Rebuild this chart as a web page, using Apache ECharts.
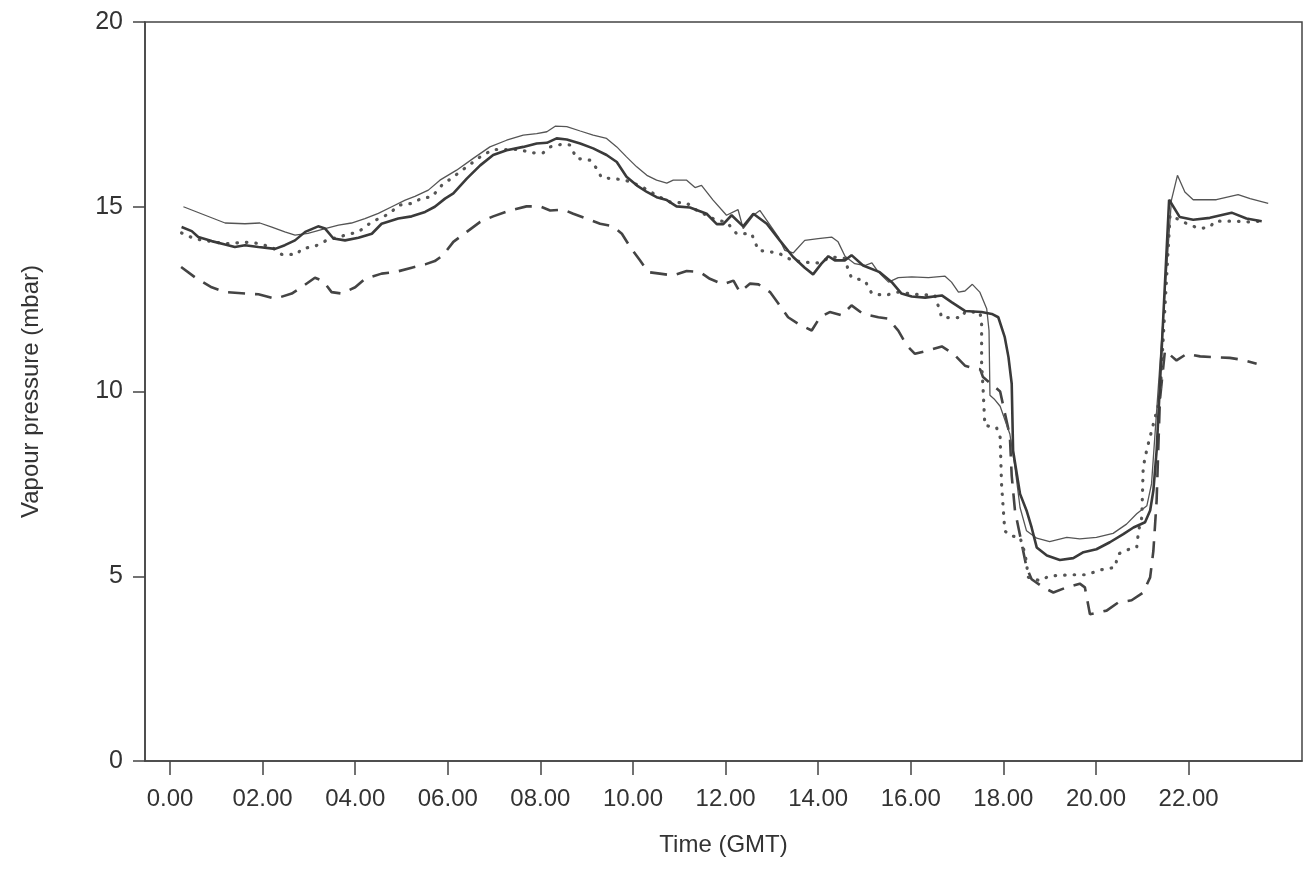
<!DOCTYPE html>
<html>
<head>
<meta charset="utf-8">
<title>Vapour pressure</title>
<script src="https://cdn.jsdelivr.net/npm/echarts@6/dist/echarts.min.js"></script>
<style>
  html, body { margin: 0; padding: 0; background: #fff; }
  #chart { width: 1307px; height: 892px; }
</style>
</head>
<body>
<div id="chart"></div>
<script>
// hours (GMT) where the x ticks sit, and what they read
const tickHours = [0, 2, 4, 6, 8, 10, 12, 14, 16, 18, 20, 22]
const tickLabels = ['0.00', '02.00', '04.00', '06.00', '08.00', '10.00',
  '12.00', '14.00', '16.00', '18.00', '20.00', '22.00']

// [hour, vapour pressure mbar]
const thinSolid = [
  [0.29, 15.0], [0.76, 14.77], [1.19, 14.56], [1.62, 14.54], [1.94, 14.56], [2.2, 14.45],
  [2.48, 14.32], [2.7, 14.23], [2.98, 14.28], [3.35, 14.41], [3.64, 14.5], [3.92, 14.56],
  [4.21, 14.68], [4.5, 14.82], [4.79, 15.0], [5.08, 15.18], [5.29, 15.28], [5.58, 15.45],
  [5.83, 15.72], [6.19, 15.99], [6.55, 16.31], [6.91, 16.62], [7.27, 16.8], [7.63, 16.94],
  [7.92, 16.98], [8.14, 17.03], [8.32, 17.18], [8.57, 17.17], [8.86, 17.05], [9.14, 16.94],
  [9.43, 16.85], [9.65, 16.62], [9.86, 16.35], [10.08, 16.08], [10.3, 15.85], [10.51, 15.72],
  [10.73, 15.64], [10.87, 15.72], [11.16, 15.72], [11.34, 15.52], [11.48, 15.58], [11.73, 15.18],
  [12.02, 14.77], [12.27, 14.92], [12.38, 14.41], [12.6, 14.77], [12.74, 14.9], [12.89, 14.63],
  [13.14, 14.18], [13.28, 13.82], [13.46, 13.75], [13.71, 14.09], [14.0, 14.14], [14.29, 14.18],
  [14.43, 14.05], [14.58, 13.66], [14.79, 13.46], [15.01, 13.41], [15.16, 13.48], [15.3, 13.23],
  [15.52, 12.96], [15.73, 13.08], [16.02, 13.1], [16.38, 13.08], [16.74, 13.12], [16.88, 12.96],
  [17.03, 12.69], [17.17, 12.72], [17.33, 12.9], [17.49, 12.69], [17.64, 12.24], [17.69, 11.65],
  [17.71, 9.9], [17.8, 9.8], [17.93, 9.6], [18.14, 8.85], [18.25, 7.95], [18.36, 6.86],
  [18.5, 6.23], [18.72, 6.03], [19.0, 5.94], [19.37, 6.05], [19.65, 6.01], [20.01, 6.05],
  [20.37, 6.16], [20.66, 6.41], [20.88, 6.69], [21.1, 6.91], [21.2, 7.5], [21.63, 15.18],
  [21.76, 15.85], [21.92, 15.4], [22.1, 15.19], [22.6, 15.19], [23.07, 15.33], [23.33, 15.22],
  [23.72, 15.09]
]

const thickSolid = [
  [0.25, 14.45], [0.47, 14.34], [0.61, 14.18], [0.9, 14.07], [1.19, 13.98], [1.4, 13.91],
  [1.62, 13.96], [1.91, 13.91], [2.27, 13.86], [2.48, 13.96], [2.7, 14.09], [2.92, 14.32],
  [3.2, 14.47], [3.35, 14.41], [3.53, 14.14], [3.78, 14.09], [4.07, 14.16], [4.36, 14.27],
  [4.57, 14.54], [4.93, 14.68], [5.22, 14.74], [5.51, 14.86], [5.72, 15.0], [5.94, 15.22],
  [6.12, 15.36], [6.41, 15.76], [6.7, 16.12], [6.98, 16.4], [7.27, 16.53], [7.63, 16.62],
  [7.92, 16.71], [8.14, 16.73], [8.35, 16.85], [8.57, 16.82], [8.86, 16.71], [9.14, 16.58],
  [9.43, 16.4], [9.65, 16.21], [9.86, 15.81], [10.08, 15.58], [10.3, 15.4], [10.51, 15.26],
  [10.73, 15.18], [10.94, 15.01], [11.23, 14.98], [11.59, 14.81], [11.81, 14.53], [11.95, 14.53],
  [12.13, 14.77], [12.38, 14.47], [12.6, 14.81], [12.89, 14.54], [13.17, 14.09], [13.46, 13.64],
  [13.71, 13.35], [13.89, 13.17], [14.07, 13.46], [14.22, 13.66], [14.36, 13.55], [14.58, 13.55],
  [14.72, 13.69], [14.97, 13.41], [15.33, 13.23], [15.59, 12.96], [15.8, 12.65], [16.02, 12.57],
  [16.31, 12.54], [16.67, 12.6], [16.88, 12.42], [17.17, 12.18], [17.53, 12.15], [17.75, 12.1],
  [17.89, 12.01], [18.03, 11.47], [18.11, 10.93], [18.18, 10.21], [18.21, 8.4], [18.36, 7.23],
  [18.5, 6.78], [18.61, 6.32], [18.72, 5.78], [18.94, 5.56], [19.22, 5.44], [19.51, 5.49],
  [19.73, 5.65], [20.01, 5.73], [20.3, 5.92], [20.59, 6.14], [20.81, 6.32], [21.06, 6.46],
  [21.17, 6.78], [21.24, 7.32], [21.31, 8.4], [21.58, 15.19], [21.81, 14.72], [22.1, 14.65],
  [22.46, 14.7], [22.93, 14.84], [23.25, 14.68], [23.58, 14.61]
]

const dotted = [
  [0.25, 14.29], [0.54, 14.13], [1.19, 14.0], [1.62, 14.04], [1.84, 14.02], [2.2, 13.91],
  [2.41, 13.71], [2.74, 13.71], [2.84, 13.86], [3.13, 13.93], [3.38, 14.09], [3.78, 14.23],
  [4.07, 14.32], [4.36, 14.59], [4.75, 14.82], [4.93, 15.04], [5.22, 15.09], [5.47, 15.25],
  [5.65, 15.26], [5.87, 15.58], [6.12, 15.81], [6.41, 16.08], [6.7, 16.35], [6.98, 16.55],
  [7.56, 16.55], [7.78, 16.46], [8.06, 16.46], [8.21, 16.62], [8.46, 16.69], [8.64, 16.67],
  [8.78, 16.31], [9.07, 16.26], [9.22, 16.03], [9.32, 15.79], [9.72, 15.74], [9.94, 15.68],
  [10.22, 15.52], [10.58, 15.26], [10.8, 15.13], [11.16, 15.1], [11.38, 14.9], [11.59, 14.77],
  [11.81, 14.63], [12.02, 14.59], [12.24, 14.27], [12.56, 14.27], [12.71, 13.82], [13.14, 13.75],
  [13.35, 13.6], [13.64, 13.5], [14.0, 13.48], [14.29, 13.64], [14.58, 13.6], [14.65, 13.28],
  [14.72, 13.08], [15.01, 13.0], [15.16, 12.65], [15.44, 12.6], [15.73, 12.69], [16.09, 12.63],
  [16.52, 12.6], [16.6, 12.29], [16.67, 12.0], [17.1, 12.0], [17.17, 12.15], [17.49, 12.15],
  [17.53, 11.92], [17.53, 10.75], [17.56, 10.12], [17.6, 9.08], [17.85, 9.03], [17.93, 8.76],
  [17.96, 7.5], [18.03, 6.23], [18.14, 6.1], [18.36, 6.05], [18.47, 5.6], [18.54, 4.97],
  [18.79, 4.88], [19.0, 5.01], [19.44, 5.04], [19.8, 5.04], [20.09, 5.17], [20.41, 5.24],
  [20.48, 5.6], [20.66, 5.71], [20.88, 5.78], [20.92, 6.23], [20.99, 6.59], [21.02, 7.95],
  [21.1, 8.44], [21.38, 9.8], [21.6, 14.77], [22.03, 14.5], [22.25, 14.41], [22.46, 14.45],
  [22.57, 14.61], [22.96, 14.61], [23.33, 14.59], [23.54, 14.61]
]

const dashed = [
  [0.24, 13.37], [0.54, 13.09], [0.9, 12.82], [1.19, 12.69], [1.55, 12.66], [1.91, 12.63],
  [2.27, 12.51], [2.63, 12.65], [2.84, 12.82], [3.13, 13.08], [3.31, 12.99], [3.49, 12.69],
  [3.71, 12.65], [4.0, 12.82], [4.21, 13.05], [4.57, 13.19], [4.86, 13.23], [5.22, 13.35],
  [5.51, 13.44], [5.72, 13.53], [5.9, 13.69], [6.12, 14.05], [6.41, 14.32], [6.7, 14.59],
  [6.98, 14.74], [7.34, 14.9], [7.7, 15.01], [7.99, 15.01], [8.21, 14.9], [8.5, 14.92],
  [8.71, 14.81], [9.0, 14.68], [9.29, 14.54], [9.57, 14.47], [9.76, 14.27], [9.94, 13.91],
  [10.15, 13.55], [10.33, 13.23], [10.58, 13.19], [10.87, 13.14], [11.16, 13.26], [11.45, 13.23],
  [11.66, 13.05], [11.95, 12.9], [12.17, 13.0], [12.31, 12.69], [12.53, 12.92], [12.71, 12.9],
  [12.96, 12.69], [13.14, 12.38], [13.35, 12.01], [13.57, 11.83], [13.86, 11.65], [14.04, 12.01],
  [14.25, 12.15], [14.51, 12.06], [14.72, 12.33], [14.97, 12.1], [15.3, 12.01], [15.51, 11.97],
  [15.73, 11.65], [15.91, 11.25], [16.09, 11.02], [16.38, 11.11], [16.67, 11.22], [16.92, 11.02],
  [17.17, 10.7], [17.39, 10.62], [17.5, 10.6], [17.56, 10.39], [17.93, 10.0], [18.14, 8.8],
  [18.18, 7.72], [18.25, 6.78], [18.39, 5.92], [18.5, 5.24], [18.61, 4.92], [18.86, 4.7],
  [19.08, 4.56], [19.37, 4.7], [19.65, 4.8], [19.76, 4.7], [19.87, 3.97], [20.23, 4.07],
  [20.48, 4.29], [20.77, 4.35], [21.02, 4.56], [21.17, 4.97], [21.24, 5.69], [21.31, 7.05],
  [21.38, 9.76], [21.49, 11.11], [21.74, 10.84], [21.96, 11.02], [22.25, 10.95], [22.53, 10.93],
  [22.89, 10.91], [23.14, 10.86], [23.47, 10.75]
]

const font = '"Liberation Sans", Arial, sans-serif'
const ink = '#333'

const chart = echarts.init(document.getElementById('chart'), null, { renderer: 'canvas' })

const line = (name, data, style) => ({
  name,
  type: 'line',
  data,
  symbol: 'none',
  animation: false,
  lineStyle: Object.assign({ color: '#444', width: 2 }, style)
})

chart.setOption({
  backgroundColor: '#fff',
  grid: {
    left: 145, right: 5, top: 22, bottom: 131,
    show: true, borderColor: '#444', borderWidth: 1.5
  },
  xAxis: {
    type: 'value',
    min: -0.54,
    max: 24.45,
    name: 'Time (GMT)',
    nameLocation: 'middle',
    nameGap: 72,
    nameTextStyle: { fontFamily: font, fontSize: 24, color: ink },
    splitLine: { show: false },
    axisLine: { show: true, onZero: false, lineStyle: { color: '#444', width: 1.5 } },
    axisTick: {
      show: true, length: 14, customValues: tickHours,
      lineStyle: { color: '#444', width: 1.5 }
    },
    axisLabel: {
      customValues: tickHours,
      margin: 26,
      fontFamily: font, fontSize: 24, color: ink,
      formatter: v => tickLabels[tickHours.indexOf(Math.round(v))]
    }
  },
  yAxis: {
    type: 'value',
    min: 0,
    max: 20,
    interval: 5,
    name: 'Vapour pressure (mbar)',
    nameLocation: 'middle',
    nameGap: 102,
    nameTextStyle: { fontFamily: font, fontSize: 24, color: ink },
    splitLine: { show: false },
    axisLine: { show: true, onZero: false, lineStyle: { color: '#444', width: 1.5 } },
    axisTick: { show: true, length: 12, lineStyle: { color: '#444', width: 1.5 } },
    axisLabel: { margin: 22, fontFamily: font, fontSize: 25, color: ink }
  },
  series: [
    line('dashed', dashed, { type: [17, 10], width: 2.6, color: '#444' }),
    line('dotted', dotted, { type: [0.5, 9], cap: 'round', width: 3.2, color: '#555' }),
    line('thin', thinSolid, { width: 1.3, color: '#555' }),
    line('thick', thickSolid, { width: 2.6, color: '#3a3a3a' })
  ]
})
</script>
</body>
</html>
